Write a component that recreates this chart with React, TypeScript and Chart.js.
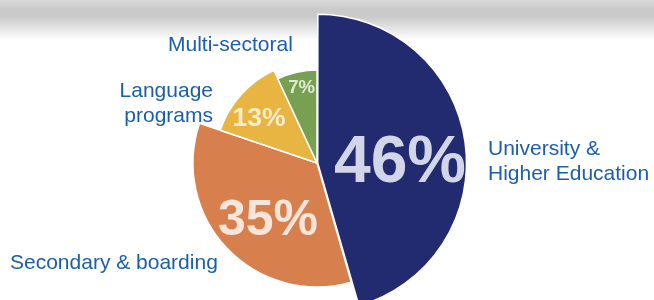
import React, { useEffect, useRef } from "react";
import { Chart, registerables } from "chart.js";

Chart.register(...registerables);

// Categories and values
const categories = [
  "University & Higher Education",
  "Secondary & boarding",
  "Language programs",
  "Multi-sectoral",
];
const shares = [46, 35, 13, 7]; // percent of total (angle of each slice)
const magnitude = [100, 83.8, 69, 62.8]; // relative radius of each slice
const shareLabels = ["46%", "35%", "13%", "7%"];

const sliceColors = ["#232b70", "#d87f4e", "#e8b542", "#77a052"];
const outerTextColor = "#1b5eab";
const innerTextColors = ["#d3d5e8", "#f7e5da", "#f9eccb", "#dfe9d3"];

// Label placement, relative to the pie centre
const innerLabelStyle = [
  { dx: 83, dy: 18.7, size: 66 },
  { dx: -49, dy: 72, size: 50 },
  { dx: -58, dy: -37, size: 26.5 },
  { dx: -15.3, dy: -69.7, size: 18.5 },
];
const outerLabelStyle = [
  { lines: ["University &", "Higher Education"], dx: 171, dy: -8, align: "left" },
  { lines: ["Secondary & boarding"], dx: -307, dy: 106, align: "left" },
  { lines: ["Language", "programs"], dx: -104, dy: -66, align: "right" },
  { lines: ["Multi-sectoral"], dx: -149, dy: -112, align: "left" },
];

const FONT = '"Liberation Sans", Arial, Helvetica, sans-serif';

const labelPlugin = {
  id: "sliceLabels",
  afterDraw(chart: any) {
    const ctx = chart.ctx;
    const r = chart.scales.r;
    const cx = r.xCenter;
    const cy = r.yCenter;
    ctx.save();
    ctx.textBaseline = "alphabetic";
    // inner percentage labels
    shareLabels.forEach((t, i) => {
      const s = innerLabelStyle[i];
      ctx.font = `bold ${s.size}px ${FONT}`;
      ctx.fillStyle = innerTextColors[i];
      ctx.textAlign = "center";
      ctx.fillText(t, cx + s.dx, cy + s.dy);
    });
    // outer category labels
    ctx.font = `21px ${FONT}`;
    ctx.fillStyle = outerTextColor;
    outerLabelStyle.forEach((s) => {
      ctx.textAlign = s.align;
      s.lines.forEach((line, j) => {
        ctx.fillText(line, cx + s.dx, cy + s.dy + j * 24.5);
      });
    });
    ctx.restore();
  },
};

export default function App() {
  const canvasRef = useRef<HTMLCanvasElement | null>(null);

  useEffect(() => {
    const canvas = canvasRef.current;
    if (!canvas) return;
    const total = shares.reduce((a, b) => a + b, 0);
    const chart = new Chart(canvas, {
      type: "polarArea",
      data: {
        labels: categories,
        datasets: [
          {
            data: magnitude,
            backgroundColor: sliceColors,
            borderColor: "#ffffff",
            borderWidth: 1.5,
            offset: [3, 0, 0, 0],
            angle: (c: any) => (shares[c.dataIndex] / total) * 360,
          } as any,
        ],
      },
      options: {
        animation: false,
        responsive: false,
        maintainAspectRatio: false,
        devicePixelRatio: 1,
        layout: { padding: { top: 15, bottom: 15, left: 0, right: 20 } },
        scales: {
          r: {
            display: false,
            min: 0,
            max: 100,
            startAngle: 0,
          },
        },
        plugins: {
          legend: { display: false },
          tooltip: { enabled: false },
        },
      } as any,
      plugins: [labelPlugin],
    });
    return () => chart.destroy();
  }, []);

  return (
    <div
      style={{
        position: "fixed",
        top: 0,
        left: 0,
        width: 654,
        height: 300,
        overflow: "hidden",
        background:
          "linear-gradient(to bottom, #d9d9d9 0px, #cacaca 9px, #cbcbcb 17px, #ffffff 40px, #ffffff 100%)",
      }}
    >
      <canvas ref={canvasRef} width={654} height={326} style={{ display: "block" }} />
    </div>
  );
}
